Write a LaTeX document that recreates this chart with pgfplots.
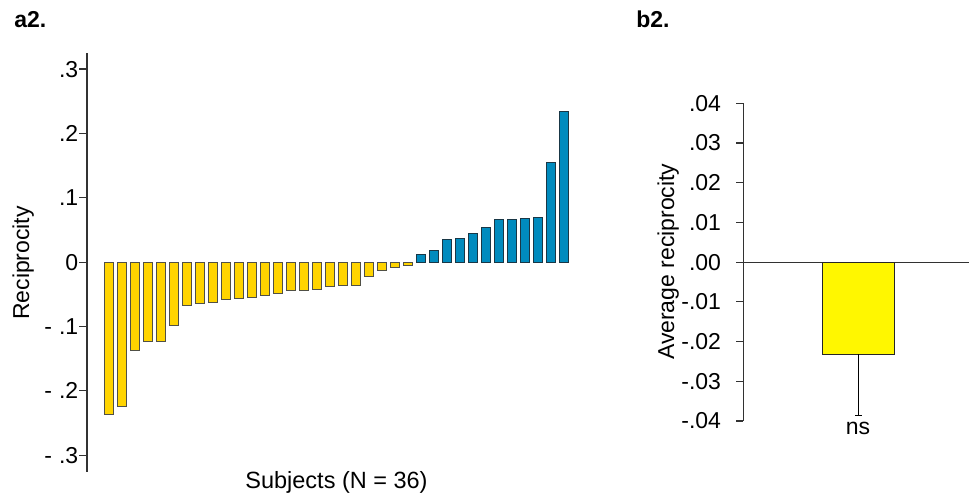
\documentclass[border=0pt]{standalone}
\usepackage{pgfplots}
\pgfplotsset{compat=1.18}
\usepackage{fontspec}
\setmainfont{Liberation Sans}
\definecolor{barY}{RGB}{255,212,0}
\definecolor{barB}{RGB}{0,139,190}
\definecolor{barY2}{RGB}{255,247,0}
\definecolor{edgeY}{RGB}{80,80,70}
\definecolor{edgeB}{RGB}{25,55,70}
\definecolor{axc}{RGB}{50,50,50}

\pgfplotstableread{
x y
1 -0.236
2 -0.224
3 -0.138
4 -0.1235
5 -0.123
6 -0.098
7 -0.067
8 -0.064
9 -0.063
10 -0.058
11 -0.057
12 -0.0555
13 -0.052
14 -0.048
15 -0.0436
16 -0.0434
17 -0.0426
18 -0.0384
19 -0.0364
20 -0.0358
21 -0.0229
22 -0.013
23 -0.0083
24 -0.0047
}\negdata
\pgfplotstableread{
x y
25 0.0113
26 0.0187
27 0.0347
28 0.0373
29 0.045
30 0.0533
31 0.0658
32 0.0663
33 0.0674
34 0.070
35 0.1555
36 0.2343
}\posdata

\begin{document}
\begin{tikzpicture}[font=\fontsize{11.5pt}{13pt}\selectfont]
\path[use as bounding box] (0pt,0pt) rectangle (484.5pt,248pt);

\begin{axis}[
  at={(43.5pt,12pt)}, anchor=south west, scale only axis,
  width=251.35pt, height=209.5pt,
  xmin=-0.72, xmax=38, ymin=-0.326, ymax=0.325,
  axis x line=none, axis y line*=left,
  axis line style={draw=axc, line width=0.65pt, -},
  ytick={-0.3,-0.2,-0.1,0,0.1,0.2,0.3},
  yticklabels={{-\hspace{0.3em}.3},{-\hspace{0.3em}.2},{-\hspace{0.3em}.1},{0},{.1},{.2},{.3}},
  tick align=outside, major tick length=4pt,
  tick style={draw=axc, line width=0.6pt},
  yticklabel style={anchor=east, inner sep=0pt, xshift=-0.2pt},
  clip=false,
]
\addplot[ybar, bar width=0.67, bar shift=0pt, fill=barY, draw=edgeY, line width=0.5pt] table[x=x,y=y] {\negdata};
\addplot[ybar, bar width=0.67, bar shift=0pt, fill=barB, draw=edgeB, line width=0.5pt] table[x=x,y=y] {\posdata};
\end{axis}

\begin{axis}[
  at={(371.65pt,37.5pt)}, anchor=south west, scale only axis,
  width=112.85pt, height=158.85pt,
  xmin=0, xmax=1.96, ymin=-0.04, ymax=0.04,
  axis x line=none, axis y line*=left,
  axis line style={draw=axc, line width=0.65pt, -},
  scaled y ticks=false,
  ytick={-0.04,-0.03,-0.02,-0.01,0,0.01,0.02,0.03,0.04},
  yticklabels={{-.04},{-.03},{-.02},{-.01},{.00},{.01},{.02},{.03},{.04}},
  tick align=outside, major tick length=3.5pt,
  tick style={draw=axc, line width=0.6pt},
  yticklabel style={anchor=east, inner sep=0pt, xshift=-7.45pt},
  clip=false,
]
\addplot[draw=axc, line width=0.65pt] coordinates {(0,0) (1.96,0)};
\addplot[ybar, bar width=0.622, bar shift=0pt, fill=barY2, draw=black!85, line width=0.5pt,
  error bars/.cd, y dir=minus, y explicit, error mark=|,
  error bar style={draw=black, line width=0.5pt},
  error mark options={draw=black, mark size=1.75pt, line width=0.5pt}]
  coordinates {(1,-0.02325) -= (0,0.01525)};
\end{axis}

\node[anchor=base west, inner sep=0pt, font=\fontsize{11.5pt}{13pt}\selectfont\bfseries] at (7pt,234pt) {a2.};
\node[anchor=base west, inner sep=0pt, font=\fontsize{11.5pt}{13pt}\selectfont\bfseries] at (318pt,234pt) {b2.};
\node[anchor=base, rotate=90, inner sep=0pt] at (14.5pt,116.5pt) {Reciprocity};
\node[anchor=base, rotate=90, inner sep=0pt] at (337pt,117.15pt) {Average reciprocity};
\node[anchor=base, inner sep=0pt, font=\fontsize{11.75pt}{13pt}\selectfont] at (168.25pt,3.5pt) {Subjects (N = 36)};
\node[anchor=base, inner sep=0pt] at (429pt,30.5pt) {ns};
\end{tikzpicture}
\end{document}
